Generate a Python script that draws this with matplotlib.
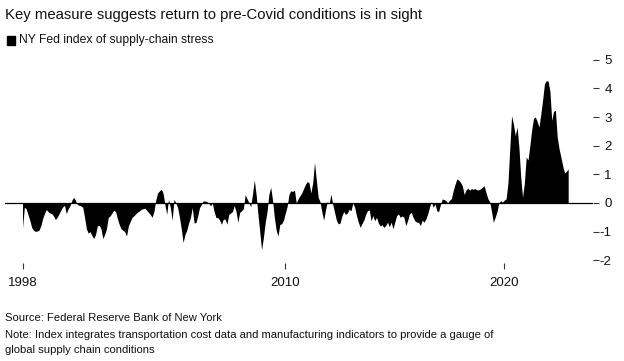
import numpy as np
import matplotlib
matplotlib.use("Agg")
import matplotlib.pyplot as plt

# ── Data: NY Fed GSCPI, monthly (Jan 1998 - Dec 2022) ──
START_YEAR = 1998
gscpi_1998_2002 = [
    -0.87, -0.15, -0.2, -0.4, -0.6, -0.85, -0.95, -0.99, -0.98, -0.95, -0.8, -0.55,
    -0.37, -0.23, -0.3, -0.35, -0.37, -0.45, -0.58, -0.5, -0.38, -0.25, -0.14, -0.08,
    -0.37, -0.2, -0.1, 0.09, 0.2, 0.1, -0.05, -0.08, -0.1, -0.15, -0.5, -0.9,
    -1.05, -1.0, -1.13, -1.24, -1.1, -0.8, -0.78, -0.9, -1.24, -1.1, -0.9, -0.5,
    -0.45, -0.35, -0.25, -0.3, -0.55, -0.75, -0.9, -0.95, -1.0, -1.15, -0.8, -0.65,
]
gscpi_2003_2007 = [
    -0.5, -0.45, -0.38, -0.32, -0.28, -0.22, -0.2, -0.18, -0.25, -0.33, -0.4, -0.5,
    -0.3, 0.1, 0.35, 0.42, 0.48, 0.35, -0.05, -0.4, 0.13, -0.16, -0.6, 0.13,
    0.0, -0.16, -0.5, -0.9, -1.38, -1.1, -0.95, -0.7, -0.51, -0.16, -0.69, -0.69,
    -0.45, -0.16, -0.05, 0.07, 0.07, 0.05, 0.0, -0.1, 0.0, -0.3, -0.51, -0.51,
    -0.6, -0.74, -0.57, -0.56, -0.74, -0.4, -0.35, -0.3, -0.09, -0.3, -0.67, -0.33,
]
gscpi_2008_2012 = [
    -0.27, -0.2, 0.29, 0.15, 0.02, -0.13, 0.3, 0.8, 0.3, -0.4, -1.0, -1.64,
    -1.2, -0.68, -0.3, 0.3, 0.55, 0.1, -0.5, -0.95, -1.15, -0.75, -0.72, -0.6,
    -0.35, -0.12, 0.3, 0.43, 0.4, 0.45, 0.0, 0.15, 0.25, 0.35, 0.5, 0.65,
    0.75, 0.7, 0.35, 0.7, 1.42, 0.8, 0.2, 0.05, -0.3, -0.6, -0.25, 0.05,
    -0.03, 0.31, -0.05, -0.33, -0.6, -0.73, -0.7, -0.45, -0.3, -0.4, -0.35, -0.22,
]
gscpi_2013_2017 = [
    -0.27, 0.0, -0.15, -0.44, -0.67, -0.85, -0.72, -0.6, -0.4, -0.27, -0.24, -0.62,
    -0.44, -0.62, -0.5, -0.7, -0.8, -0.76, -0.85, -0.79, -0.67, -0.83, -0.67, -0.9,
    -0.67, -0.44, -0.38, -0.5, -0.45, -0.5, -0.79, -0.62, -0.38, -0.33, -0.5, -0.62,
    -0.67, -0.67, -0.79, -0.6, -0.67, -0.56, -0.38, -0.15, 0.05, -0.15, -0.03, -0.27,
    -0.3, -0.05, 0.14, 0.12, 0.08, 0.0, 0.1, 0.15, 0.43, 0.65, 0.84, 0.8,
]
gscpi_2018_2022 = [
    0.72, 0.6, 0.3, 0.45, 0.52, 0.45, 0.5, 0.48, 0.5, 0.46, 0.46, 0.5,
    0.55, 0.6, 0.35, 0.15, 0.05, -0.3, -0.67, -0.5, -0.3, 0.0, 0.08, 0.03,
    0.1, 0.15, 0.7, 1.9, 3.05, 2.75, 2.35, 2.65, 1.95, 0.9, 0.2, 0.7,
    1.6, 1.5, 2.0, 2.55, 2.95, 3.0, 2.85, 2.65, 3.1, 3.6, 4.16, 4.27,
    4.25, 3.9, 2.88, 3.2, 3.23, 2.3, 1.9, 1.6, 1.3, 1.05, 1.1, 1.19,
]
year_ticks = [1998, 2010, 2020]
y_ticks = [-2, -1, 0, 1, 2, 3, 4, 5]

TITLE = "Key measure suggests return to pre-Covid conditions is in sight"
LEGEND = "NY Fed index of supply-chain stress"
SOURCE = "Source: Federal Reserve Bank of New York"
NOTE_1 = "Note: Index integrates transportation cost data and manufacturing indicators to provide a gauge of"
NOTE_2 = "global supply chain conditions"

plt.rcParams["font.family"] = ["Liberation Sans", "DejaVu Sans"]

values = np.array(gscpi_1998_2002 + gscpi_2003_2007 + gscpi_2008_2012
                  + gscpi_2013_2017 + gscpi_2018_2022)
t = START_YEAR + np.arange(len(values)) / 12.0

W, H = 624, 361
fig = plt.figure(figsize=(W / 100, H / 100), dpi=100)

# axes box in pixels: left 5, right 593, top 54, bottom 263
ax = fig.add_axes([5 / W, (H - 263) / H, 588 / W, 209 / H])
ax.fill_between(t, values, 0, color="black", linewidth=0)
ax.axhline(0, color="black", lw=0.9)

ax.set_xlim(1997.2, 2024.05)
ax.set_ylim(-2.094, 5.2)

for s in ax.spines.values():
    s.set_visible(False)

ax.set_xticks(year_ticks)
ax.set_xticklabels([str(y) for y in year_ticks])
ax.tick_params(axis="x", length=4, width=0.8, color="#333333", pad=6,
               labelsize=9.5, labelcolor="#111111")

ax.yaxis.tick_right()
ax.set_yticks(y_ticks)
ax.set_yticklabels([str(v) for v in y_ticks])
ax.tick_params(axis="y", length=4, width=0.8, color="#333333", pad=9.5,
               labelsize=9.5, labelcolor="#111111")
for lab in ax.get_yticklabels():
    lab.set_horizontalalignment("right")

# header
fig.text(5 / W, 1 - 15 / H, TITLE, fontsize=10.7, va="center", ha="left", color="#111111")
fig.patches.append(plt.Rectangle((7 / W, 1 - 45 / H), 8 / W, 9 / H,
                                 transform=fig.transFigure, color="black"))
fig.text(19 / W, 1 - 40.5 / H, LEGEND, fontsize=8.7, va="center", ha="left", color="#111111")

# footer
for y_px, line in [(318, SOURCE), (334.5, NOTE_1), (350, NOTE_2)]:
    fig.text(5 / W, 1 - y_px / H, line, fontsize=8.15, va="center", ha="left", color="#111111")

fig.savefig("out.png", dpi=100)
